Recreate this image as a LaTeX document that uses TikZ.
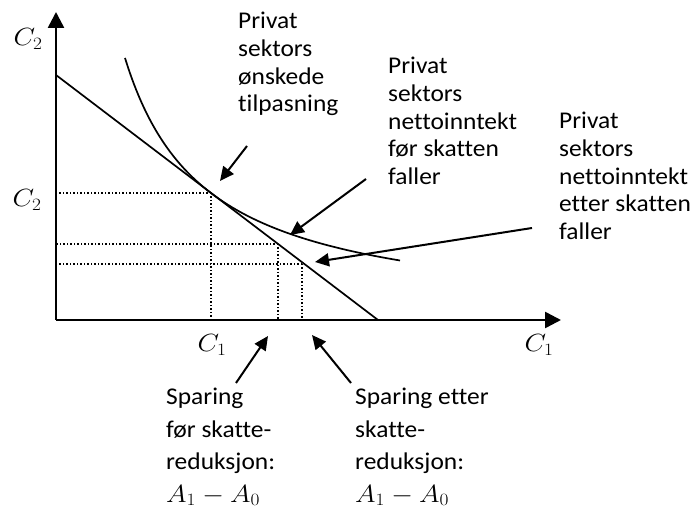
\documentclass[tikz,border=0pt]{standalone}
\usepackage{fontspec}
\setmainfont[FakeStretch=1.06,RawFeature={-liga;-calt;-clig}]{Carlito}
\usetikzlibrary{arrows.meta}
\newcommand{\wm}[1]{\scalebox{1.12}[1]{$#1$}}
\begin{document}
\begin{tikzpicture}[x=1pt,y=-1pt,
  axis/.style={line width=2.6pt,-{Triangle[length=16pt,width=16pt]}},
  pointer/.style={line width=2pt,-{Triangle[length=14pt,width=13pt]}},
  guide/.style={line width=1.5pt,dotted},
  curveline/.style={line width=1.7pt},
  lbl/.style={inner sep=0pt,anchor=north west,align=left,font=\fontsize{24}{27.7}\selectfont},
  lblb/.style={inner sep=0pt,anchor=north west,align=left,font=\fontsize{24}{32.5}\selectfont},
  mlbl/.style={inner sep=0pt,font=\fontsize{25}{28}\selectfont}]
\useasboundingbox (0,0) rectangle (699,510);
% axes
\coordinate (O) at (56,320);
\coordinate (Ytip) at (56,12);
\coordinate (Xtip) at (561,320);
\draw[axis] (O) -- (Ytip);
\draw[axis] (O) -- (Xtip);
% budget line
\coordinate (B0) at (56,75);
\coordinate (B1) at (378,320);
\draw[curveline] (B0) -- (B1);
% indifference curve
\draw[curveline] plot[domain=125:400,samples=80,smooth] (\x,{320-100*(211.73/(\x-44.2))});
% points
\coordinate (E) at (211,193);
\coordinate (P1) at (278,244);
\coordinate (P2) at (302,264);
\draw[guide] (E) -- (E |- O);
\draw[guide] (E) -- (E -| O);
\draw[guide] (P1) -- (P1 |- O);
\draw[guide] (P1) -- (P1 -| O);
\draw[guide] (P2) -- (P2 |- O);
\draw[guide] (P2) -- (P2 -| O);
% axis labels
\node[mlbl] (c2top) at (28,39) {\wm{C_2}};
\node[mlbl] (c2mid) at (27,200) {\wm{C_2}};
\node[mlbl] (c1mid) at (212,345) {\wm{C_1}};
\node[mlbl] (c1end) at (539,345) {\wm{C_1}};
% text labels
\node[lbl] (t1) at (238,12) {Privat\\sektors\\ønskede\\tilpasning};
\node[lbl] (t2) at (388,57) {Privat\\sektors\\nettoinntekt\\før skatten\\faller};
\node[lbl] (t3) at (559,112) {Privat\\sektors\\nettoinntekt\\etter skatten\\faller};
\node[lblb] (t4) at (166,388) {Sparing\\før skatte-\\reduksjon:\\\wm{A_1-A_0}};
\node[lblb] (t5) at (355,388) {Sparing etter\\skatte-\\reduksjon:\\\wm{A_1-A_0}};
% pointers
\coordinate (a1s) at (247,146); \coordinate (a1e) at (220,181);
\coordinate (a2s) at (366,179); \coordinate (a2e) at (290,235);
\coordinate (a3s) at (532,228); \coordinate (a3e) at (315,262);
\coordinate (a4s) at (236,383); \coordinate (a4e) at (268,336);
\coordinate (a5s) at (351,383); \coordinate (a5e) at (312,335);
\draw[pointer] (a1s) -- (a1e);
\draw[pointer] (a2s) -- (a2e);
\draw[pointer] (a3s) -- (a3e);
\draw[pointer] (a4s) -- (a4e);
\draw[pointer] (a5s) -- (a5e);
\end{tikzpicture}
\end{document}
